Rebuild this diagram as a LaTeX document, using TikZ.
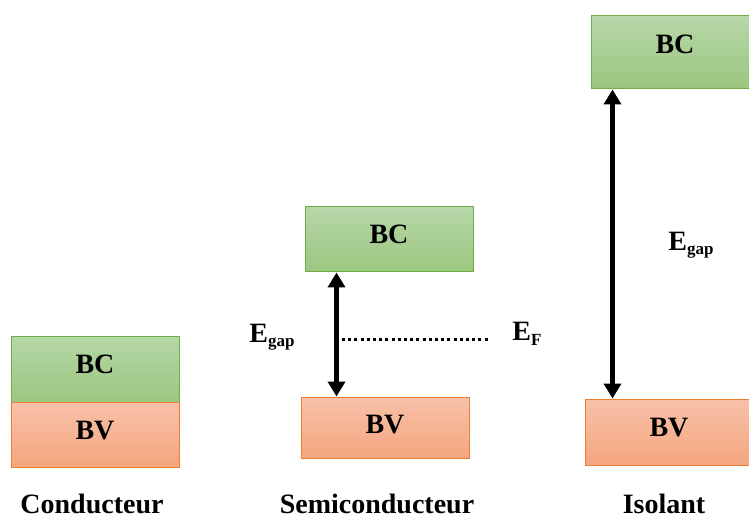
\documentclass[tikz,border=0pt]{standalone}
\usepackage{fontspec}
\setmainfont{Liberation Serif}
\usetikzlibrary{arrows.meta}

\definecolor{bcTop}{HTML}{B6D7A8}
\definecolor{bcBot}{HTML}{9BC67F}
\definecolor{bcLine}{HTML}{70AD47}
\definecolor{bvTop}{HTML}{F8C1A8}
\definecolor{bvBot}{HTML}{F4A67F}
\definecolor{bvLine}{HTML}{ED7D31}

\tikzset{
  band/.style={draw, line width=1pt, inner sep=0pt, font=\fontsize{28}{30}\selectfont\bfseries},
  cband/.style={band, draw=bcLine, top color=bcTop, bottom color=bcBot},
  vband/.style={band, draw=bvLine, top color=bvTop, bottom color=bvBot},
  caption/.style={font=\fontsize{28}{30}\selectfont\bfseries, inner sep=0pt},
  energy/.style={font=\fontsize{28}{30}\selectfont\bfseries, inner sep=0pt},
  gaparrow/.style={line width=4.5pt, {Triangle[width=17pt,length=15pt]}-{Triangle[width=17pt,length=15pt]}},
  fermi/.style={line width=3pt, dash pattern=on 3pt off 3.2pt}
}
% band name set with its baseline a given distance from the box centre
\newcommand{\bandname}[2]{\raisebox{#1}[0pt][0pt]{#2}}
\newcommand{\Egap}{E\raisebox{-0.35ex}{\fontsize{17}{18}\selectfont gap}}
\newcommand{\EFermi}{E\raisebox{-0.35ex}{\fontsize{17}{18}\selectfont F}}

\begin{document}
\begin{tikzpicture}[x=1pt, y=-1pt]
  \useasboundingbox (0,0) rectangle (749,518);
  \clip (0,0) rectangle (749,518);

  % Conducteur: bands touching
  \node[cband, minimum width=168pt, minimum height=66pt] (condBC) at (95,369) {\bandname{-4.5pt}{BC}};
  \node[vband, minimum width=168pt, minimum height=65pt] (condBV) at (95,434.5) {\bandname{-4.5pt}{BV}};
  \node[caption] (condLab) at (92,503.5) {Conducteur};

  % Semiconducteur: small gap
  \node[cband, minimum width=168pt, minimum height=65pt] (semiBC) at (389,239.5) {\bandname{-4pt}{BC}};
  \node[vband, minimum width=168pt, minimum height=61pt] (semiBV) at (385,427.5) {\bandname{-5.5pt}{BV}};
  \node[caption] (semiLab) at (377,503.5) {Semiconducteur};
  \draw[gaparrow] ([xshift=32pt]semiBC.south west) -- ([xshift=36pt]semiBV.north west);
  \node[energy] (semiGap) at (272,337) {\Egap};
  \coordinate (fermiA) at (342,339);
  \coordinate (fermiB) at (489,339);
  \draw[fermi] (fermiA) -- (fermiB);
  \node[energy] (semiEF) at (527,334) {\EFermi};

  % Isolant: large gap
  \node[cband, minimum width=168pt, minimum height=73pt] (isoBC) at (675,52.5) {\bandname{-1pt}{BC}};
  \node[vband, minimum width=168pt, minimum height=66pt] (isoBV) at (669,432) {\bandname{-4.5pt}{BV}};
  \node[caption] (isoLab) at (664,503.5) {Isolant};
  \draw[gaparrow] ([xshift=22pt]isoBC.south west) -- ([xshift=28pt]isoBV.north west);
  \node[energy] (isoGap) at (691,245) {\Egap};
\end{tikzpicture}
\end{document}
